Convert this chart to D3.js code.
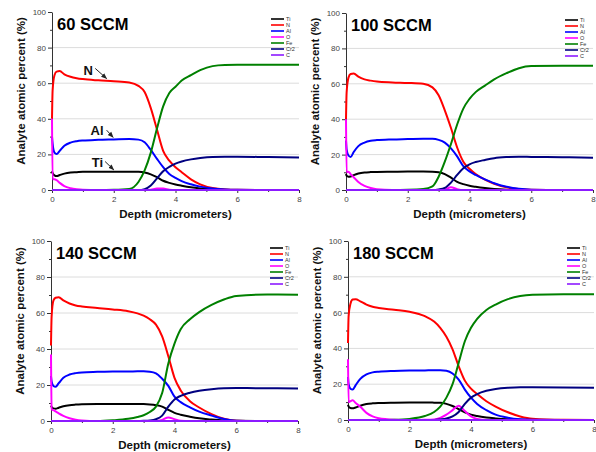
<!DOCTYPE html>
<html>
<head>
<meta charset="utf-8">
<script src="https://cdn.jsdelivr.net/npm/d3@7"></script>
<style>
  body { margin: 0; background: #fff; }
  svg { display: block; font-family: "Liberation Sans", Arial, sans-serif; }
</style>
</head>
<body>
<svg width="596" height="452"></svg>
<script>
// depth grid (micrometers) shared by all profiles
const depth = [0, 0.02, 0.08, 0.15, 0.25, 0.4, 0.6, 0.8, 1.0, 1.5, 2.0, 2.5, 2.8, 3.0, 3.2, 3.4, 3.6, 3.8, 4.0, 4.2, 4.5, 4.8, 5.2, 5.6, 6.0, 7.0, 8.0];

const elements = ["Ti", "N", "Al", "O", "Fe", "Cr2", "C"];
const panelTitles = ["60 SCCM", "100 SCCM", "140 SCCM", "180 SCCM"];
const xTicks = [0, 2, 4, 6, 8];
const yTicks = [0, 20, 40, 60, 80, 100];

// 60 SCCM
const ti60 = [10.5, 9.5, 8.2, 7.8, 8.4, 9.2, 9.8, 10, 10.2, 10.3, 10.3, 10.3, 10.2, 9.8, 8.8, 7.2, 5.2, 4, 3.1, 2.4, 1.5, 0.9, 0.4, 0.1, 0, 0, 0];
const n60 = [40, 56, 64.5, 66.5, 66.8, 65, 63.6, 62.8, 62.3, 61.6, 61.1, 60.4, 58.5, 55, 46, 34, 22, 16.5, 12.8, 10, 6, 3.2, 1.1, 0.3, 0.1, 0, 0];
const al60 = [30, 26, 21, 20.2, 22, 24.8, 26.6, 27.4, 27.8, 28.2, 28.4, 28.6, 28.3, 26.8, 22.5, 17.5, 12.8, 9, 6.8, 5, 3.2, 1.9, 0.8, 0.3, 0.1, 0, 0];
const o60 = [40, 6, 6, 5.5, 4, 2.2, 1, 0.4, 0.1, 0, 0, 0, 0, 0, 0.2, 0.8, 0.8, 0.2, 0, 0, 0, 0, 0, 0, 0, 0, 0];
const fe60 = [0, 0, 0, 0, 0, 0, 0, 0, 0, 0, 0.1, 0.6, 4.5, 11, 21, 34.5, 47, 54.5, 58, 61.5, 64.5, 67.3, 69.6, 70.2, 70.3, 70.3, 70.3];
const cr60 = [0, 0, 0, 0, 0, 0, 0, 0, 0, 0, 0, 0, 0, 0.5, 2.5, 6.5, 10.5, 13, 14.8, 16, 17.2, 18, 18.6, 18.7, 18.7, 18.5, 18.3];
const c60 = [0, 0, 0, 0, 0, 0, 0, 0, 0, 0, 0, 0, 0, 0, 0, 0, 0, 0, 0, 0, 0, 0, 0, 0, 0, 0, 0];

// 100 SCCM
const ti100 = [9, 8, 7.5, 7.6, 8.4, 9.3, 9.9, 10.1, 10.2, 10.3, 10.4, 10.4, 10.3, 10, 9, 7, 4.6, 3.3, 2.4, 1.8, 1.1, 0.6, 0.2, 0, 0, 0, 0];
const n100 = [40, 55, 63.5, 65.5, 65.8, 64, 62.5, 61.8, 61.3, 60.8, 60.5, 60, 58, 53.5, 45, 35, 24, 16, 12, 9, 5.8, 3.5, 1.5, 0.6, 0.2, 0, 0];
const al100 = [28, 23, 19.5, 18.7, 21.5, 24.8, 26.8, 27.8, 28.2, 28.6, 28.8, 29, 28.9, 28.3, 26.8, 23.5, 19, 13.5, 10.5, 8.5, 6, 3.8, 1.8, 0.7, 0.2, 0, 0];
const o100 = [40, 10, 10.3, 9, 7.2, 4.5, 2.3, 1.1, 0.4, 0, 0, 0, 0, 0, 0.3, 1.6, 0.5, 0, 0, 0, 0, 0, 0, 0, 0, 0, 0];
const fe100 = [0, 0, 0, 0, 0, 0, 0, 0, 0, 0, 0.1, 0.5, 2, 7.5, 16, 26, 37, 46, 51.5, 55.3, 59, 62.5, 66, 68.8, 70, 70.2, 70.2];
const cr100 = [0, 0, 0, 0, 0, 0, 0, 0, 0, 0, 0, 0, 0, 0.3, 1.2, 4.2, 8.5, 12.3, 14.5, 15.8, 17, 18, 18.6, 18.8, 18.7, 18.5, 18.2];
const c100 = [0, 0, 0, 0, 0, 0, 0, 0, 0, 0, 0, 0, 0, 0, 0, 0, 0, 0, 0, 0, 0, 0, 0, 0, 0, 0, 0];

// 140 SCCM
const ti140 = [8.5, 7.8, 7, 6.8, 7.4, 8.2, 8.8, 9.1, 9.3, 9.5, 9.5, 9.5, 9.4, 9.4, 9.2, 8.8, 8, 6.2, 4.5, 3.5, 2.4, 1.5, 0.8, 0.3, 0.1, 0, 0];
const n140 = [42, 58, 67, 68.5, 68.8, 67, 65.3, 64.2, 63.6, 62.8, 62, 61, 59.8, 58.5, 56.5, 53.5, 47, 36, 24, 17, 11, 7.5, 3.8, 1.2, 0.2, 0, 0];
const al140 = [25, 22, 19.5, 19, 21, 24, 25.8, 26.6, 27, 27.3, 27.5, 27.5, 27.6, 27.6, 27.4, 26.5, 23.5, 19.5, 13.5, 10.5, 7.6, 5.2, 3, 1.1, 0.2, 0, 0];
const o140 = [37, 6.5, 6, 5.3, 4.2, 2.8, 1.5, 0.7, 0.3, 0, 0, 0, 0, 0, 0, 0, 0.6, 2, 1, 0.2, 0, 0, 0, 0, 0, 0, 0];
const fe140 = [0, 0, 0, 0, 0, 0, 0, 0, 0, 0, 0.4, 1.2, 2.2, 3.2, 5, 8, 15.5, 32, 43, 51, 56.5, 60.5, 64.5, 67.5, 69.5, 70.3, 70.2];
const cr140 = [0, 0, 0, 0, 0, 0, 0, 0, 0, 0, 0, 0, 0, 0.1, 0.3, 1, 3, 8, 12, 14, 15.7, 16.8, 17.7, 18.2, 18.3, 18.2, 18];
const c140 = [0, 0, 0, 0, 0, 0, 0, 0, 0, 0, 0, 0, 0, 0, 0, 0, 0, 0, 0, 0, 0, 0, 0, 0, 0, 0, 0];

// 180 SCCM
const ti180 = [8.5, 7.5, 6.7, 6.5, 7, 8, 8.9, 9.3, 9.5, 9.7, 9.8, 9.8, 9.7, 9.6, 9, 7.8, 6, 4.3, 3, 2.2, 1.4, 0.9, 0.4, 0.1, 0, 0, 0];
const n180 = [43, 58, 65, 67.3, 67.5, 66.3, 64.5, 63.3, 62.6, 61.6, 60.5, 58, 55, 51.5, 46.5, 39.5, 30, 22, 17.5, 14.5, 10.5, 7.5, 4.3, 2, 0.7, 0.1, 0];
const al180 = [24, 20, 17.5, 17, 19.5, 23, 25.5, 26.6, 27, 27.4, 27.6, 27.7, 27.8, 27.8, 27.5, 26, 22.5, 17, 12.5, 9, 5.5, 3, 1.3, 0.4, 0.1, 0, 0];
const o180 = [34, 10, 10.5, 11, 9.5, 7.4, 4, 2, 1, 0.2, 0, 0.1, 0.3, 1.2, 3, 5.5, 8, 5, 2, 0.6, 0, 0, 0, 0, 0, 0, 0];
const fe180 = [0, 0, 0, 0, 0, 0, 0, 0, 0, 0.1, 0.6, 2.2, 4.5, 7.5, 12.5, 20, 32, 44, 51.5, 56.5, 61.5, 64.5, 67.5, 69.3, 70, 70.3, 70.3];
const cr180 = [0, 0, 0, 0, 0, 0, 0, 0, 0, 0, 0, 0, 0, 0.3, 0.8, 2, 4.5, 9, 12.5, 14.5, 16.3, 17.3, 18, 18.3, 18.3, 18.2, 18];
const c180 = [0, 0, 0, 0, 0, 0, 0, 0, 0, 0, 0, 0, 0, 0, 0, 0, 0, 0, 0, 0, 0, 0, 0, 0, 0, 0, 0];

const profiles = [
  [ti60, n60, al60, o60, fe60, cr60, c60],
  [ti100, n100, al100, o100, fe100, cr100, c100],
  [ti140, n140, al140, o140, fe140, cr140, c140],
  [ti180, n180, al180, o180, fe180, cr180, c180]
];

const colors = ["#000000", "#ff0000", "#0000ff", "#ff00ff", "#008000", "#000080", "#8c1aff"];

// panel boxes in pixels
const boxes = [
  { left: 52, right: 299, top: 12, bottom: 190 },
  { left: 346, right: 593, top: 13, bottom: 190 },
  { left: 51, right: 298, top: 241, bottom: 421 },
  { left: 348, right: 594, top: 241, bottom: 420 }
];

const svg = d3.select("svg");

const defs = svg.append("defs");
defs.append("marker")
  .attr("id", "arrow")
  .attr("viewBox", "0 0 10 10")
  .attr("refX", 9).attr("refY", 5)
  .attr("markerWidth", 6).attr("markerHeight", 6)
  .attr("orient", "auto")
  .append("path")
  .attr("d", "M0,1 L10,5 L0,9 Z")
  .attr("fill", "#222");

boxes.forEach((b, p) => {
  const x = d3.scaleLinear().domain([0, 8]).range([b.left, b.right]);
  const y = d3.scaleLinear().domain([0, 100]).range([b.bottom, b.top]);
  const g = svg.append("g");

  // grid
  g.selectAll(".grid")
    .data([20, 40, 60, 80])
    .enter().append("line")
    .attr("x1", b.left).attr("x2", b.right)
    .attr("y1", d => y(d)).attr("y2", d => y(d))
    .attr("stroke", "#dcdcdc").attr("stroke-width", 1);

  // axes
  const yAxis = g.append("g")
    .attr("transform", `translate(${b.left},0)`)
    .call(d3.axisLeft(y).tickValues(yTicks).tickSize(4).tickSizeOuter(0).tickPadding(2));
  g.append("g")
    .attr("transform", `translate(${b.left},0)`)
    .call(d3.axisLeft(y).tickValues([10, 30, 50, 70, 90]).tickSize(2).tickFormat(""))
    .select(".domain").remove();
  const xAxis = g.append("g")
    .attr("transform", `translate(0,${b.bottom})`)
    .call(d3.axisBottom(x).tickValues(xTicks).tickSize(3).tickSizeOuter(0).tickPadding(3));
  g.append("g")
    .attr("transform", `translate(0,${b.bottom})`)
    .call(d3.axisBottom(x).tickValues([1, 3, 5, 7]).tickSize(2).tickFormat(""))
    .select(".domain").remove();

  g.selectAll(".domain").attr("stroke", "#333");
  g.selectAll(".tick line").attr("stroke", "#333");
  g.selectAll(".tick text").attr("fill", "#444").style("font-size", "8px").style("font-family", "Liberation Sans, Arial, sans-serif");

  // axis titles
  g.append("text")
    .attr("transform", `translate(${b.left - 31},${(b.top + b.bottom) / 2 - 10}) rotate(-90)`)
    .attr("text-anchor", "middle")
    .attr("dy", "0.35em")
    .style("font-size", "11.5px").style("font-weight", "bold")
    .attr("fill", "#111")
    .text("Analyte atomic percent (%)");
  g.append("text")
    .attr("x", (b.left + b.right) / 2)
    .attr("y", b.bottom + 28)
    .attr("text-anchor", "middle")
    .style("font-size", "11.5px").style("font-weight", "bold")
    .attr("fill", "#111")
    .text("Depth (micrometers)");

  // profiles
  const line = d3.line()
    .x((d, i) => x(depth[i]))
    .y(d => y(d))
    .curve(d3.curveMonotoneX);
  profiles[p].forEach((vals, k) => {
    g.append("path")
      .attr("d", line(vals))
      .attr("fill", "none")
      .attr("stroke", colors[k])
      .attr("stroke-width", 2)
      .attr("stroke-linejoin", "round");
  });

  // title
  g.append("text")
    .attr("x", b.left + 5)
    .attr("y", b.top + 18)
    .style("font-size", "16.5px").style("font-weight", "bold")
    .attr("fill", "#000")
    .text(panelTitles[p]);

  // legend
  const lg = g.append("g");
  elements.forEach((name, k) => {
    const ly = b.top + 7 + k * 6;
    lg.append("line")
      .attr("x1", b.left + 219).attr("x2", b.left + 232)
      .attr("y1", ly).attr("y2", ly)
      .attr("stroke", colors[k]).attr("stroke-width", 1.6);
    lg.append("text")
      .attr("x", b.left + 234).attr("y", ly + 2)
      .style("font-size", "5.5px")
      .attr("fill", "#333")
      .text(name);
  });

  // annotations on the first panel
  if (p === 0) {
    const notes = [
      { text: "N", tx: 1.17, ty: 64.8, x1: 1.4, y1: 68.3, x2: 1.77, y2: 62.6 },
      { text: "Al", tx: 1.46, ty: 30.9, x1: 1.77, y1: 33.6, x2: 1.98, y2: 29.6 },
      { text: "Ti", tx: 1.47, ty: 12.9, x1: 1.72, y1: 16, x2: 2.0, y2: 11.3 }
    ];
    notes.forEach(n => {
      g.append("text")
        .attr("x", x(n.tx)).attr("y", y(n.ty))
        .attr("text-anchor", "middle")
        .style("font-size", "13px").style("font-weight", "bold")
        .attr("fill", "#111")
        .text(n.text);
      g.append("line")
        .attr("x1", x(n.x1)).attr("y1", y(n.y1))
        .attr("x2", x(n.x2)).attr("y2", y(n.y2))
        .attr("stroke", "#222").attr("stroke-width", 1)
        .attr("marker-end", "url(#arrow)");
    });
  }
});
</script>
</body>
</html>
